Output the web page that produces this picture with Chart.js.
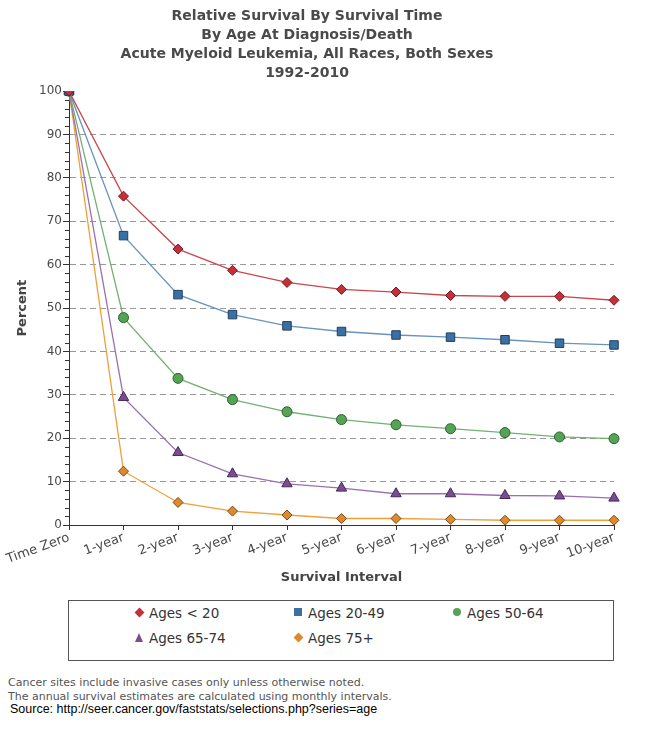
<!DOCTYPE html>
<html>
<head>
<meta charset="utf-8">
<script src="https://cdn.jsdelivr.net/npm/chart.js@4.4.1/dist/chart.umd.min.js"></script>
<style>
body{margin:0;background:#fff;}
#wrap{position:relative;width:650px;height:755px;}
#box{position:absolute;left:0;top:0;width:650px;height:590px;}
#legend{position:absolute;left:68px;top:600px;width:544px;height:59px;border:1px solid #555;}
.item{position:absolute;font:13.5px "DejaVu Sans",sans-serif;color:#333;white-space:nowrap;line-height:16px;}
.mk{position:absolute;}
.note{position:absolute;left:8px;font:11px "DejaVu Sans",sans-serif;color:#555;white-space:nowrap;}
.src{position:absolute;left:10px;font:12.5px "Liberation Sans",Arial,sans-serif;color:#000;white-space:nowrap;}
</style>
</head>
<body>
<div id="wrap">
<div id="box"><canvas id="chart"></canvas></div>
<div id="legend"></div>
<div class="note" style="top:676px">Cancer sites include invasive cases only unless otherwise noted.</div>
<div class="note" style="top:690px">The annual survival estimates are calculated using monthly intervals.</div>
<div class="src" style="top:702px">Source: http://seer.cancer.gov/faststats/selections.php?series=age</div>
</div>
<script>

const categories = ["Time Zero","1-year","2-year","3-year","4-year","5-year","6-year","7-year","8-year","9-year","10-year"];

const agesUnder20 = [100, 75.8, 63.6, 58.7, 55.9, 54.3, 53.7, 52.9, 52.7, 52.7, 51.8];
const ages20to49 = [100, 66.7, 53.1, 48.5, 45.9, 44.6, 43.8, 43.3, 42.7, 41.9, 41.5];
const ages50to64 = [100, 47.8, 33.8, 28.9, 26.1, 24.3, 23.1, 22.2, 21.3, 20.3, 19.9];
const ages65to74 = [100, 29.4, 16.7, 11.8, 9.5, 8.5, 7.2, 7.2, 6.8, 6.7, 6.2];
const ages75plus = [100, 12.4, 5.2, 3.2, 2.3, 1.5, 1.5, 1.3, 1.1, 1.1, 1.1];

const seriesNames = ["Ages < 20","Ages 20-49","Ages 50-64","Ages 65-74","Ages 75+"];

const titleLines = [
"Relative Survival By Survival Time",
"By Age At Diagnosis/Death",
"Acute Myeloid Leukemia, All Races, Both Sexes",
"1992-2010"
];

// styling per series
const lineColors = ["#c8474d","#6893bd","#72b172","#9a70ae","#f0a038"];
const markColors = ["#c4303a","#3b70a3","#55a456","#7a4d90","#e0892c"];
const markBorders = ["#7a1a20","#1f3f60","#2e6030","#45285a","#7a4a14"];
const markStyles = ["rectRot","rect","circle","triangle","rectRot"];
const markSizes = [5,6,5,6,5];

const allData = [agesUnder20, ages20to49, ages50to64, ages65to74, ages75plus];

const font = '"DejaVu Sans", sans-serif';

const minorTicks = {
id:"minorTicks",
afterDraw(chart){
const y = chart.scales.y;
const ctx = chart.ctx;
ctx.save();
ctx.strokeStyle = "#333";
ctx.lineWidth = 1;
for(let v = 0; v <= 100; v += 2){
if(v % 10 === 0) continue;
const py = Math.round(y.getPixelForValue(v)) + 0.5;
ctx.beginPath();
ctx.moveTo(y.right - 4, py);
ctx.lineTo(y.right, py);
ctx.stroke();
}
ctx.restore();
}
};

const datasets = allData.map((d, i) => ({
label: seriesNames[i],
data: d,
borderColor: lineColors[i],
borderWidth: 1.3,
backgroundColor: markColors[i],
pointStyle: markStyles[i],
pointRadius: markSizes[i],
pointHoverRadius: markSizes[i],
pointBackgroundColor: markColors[i],
pointBorderColor: markBorders[i],
pointBorderWidth: 1,
tension: 0,
fill: false
}));

const ctx = document.getElementById("chart").getContext("2d");

new Chart(ctx,{
type:"line",
data:{
labels: categories,
datasets: datasets
},
options:{
responsive:true,
maintainAspectRatio:false,
animation:false,
layout:{padding:{left:0,right:36,top:0,bottom:0}},
plugins:{
legend:{display:false},
tooltip:{enabled:false},
title:{
display:true,
text:titleLines,
color:"#4a4a4a",
font:{family:font,size:14,weight:"bold",lineHeight:1.36},
padding:{top:7,bottom:8}
}
},
scales:{
x:{
offset:false,
afterFit(s){ s.height = 65; },
grid:{drawOnChartArea:false,drawTicks:true,tickLength:5,tickColor:"#333"},
border:{color:"#333",width:1},
ticks:{
color:"#4a4a4a",
font:{family:font,size:13},
minRotation:20,
maxRotation:20,
autoSkip:false,
padding:0
},
title:{
display:true,
text:"Survival Interval",
color:"#444",
font:{family:font,size:13,weight:"bold"},
padding:{top:4,bottom:5}
}
},
y:{
min:0,
max:100,
afterFit(s){ s.width = 69; },
grid:{
color: c => (c.tick && c.tick.value > 0 && c.tick.value < 100) ? "#999" : "rgba(0,0,0,0)",
tickColor:"#333",
tickLength:6
},
border:{color:"#333",width:1,dash:[6,4]},
ticks:{
stepSize:10,
color:"#4a4a4a",
font:{family:font,size:12},
padding:1
},
title:{
display:true,
text:"Percent",
color:"#444",
font:{family:font,size:13,weight:"bold"},
padding:{top:15,bottom:0}
}
}
}
},
plugins:[minorTicks]
});

/* legend */
const legend = document.getElementById("legend");
const colX = [70, 229, 388];
const rowY = [11, 36];

seriesNames.forEach((name, i) => {
const col = i % 3;
const row = Math.floor(i / 3);
const mk = document.createElement("div");
mk.className = "mk";
const cx = colX[col];
const cy = rowY[row];
const c = markColors[i];
if(markStyles[i] === "rectRot"){
mk.style.cssText = `left:${cx-3.5}px;top:${cy-3.5}px;width:7px;height:7px;background:${c};transform:rotate(45deg);`;
}
else if(markStyles[i] === "rect"){
mk.style.cssText = `left:${cx-4}px;top:${cy-4}px;width:8px;height:8px;background:${c};`;
}
else if(markStyles[i] === "circle"){
mk.style.cssText = `left:${cx-4}px;top:${cy-4}px;width:8px;height:8px;background:${c};border-radius:50%;`;
}
else{
mk.style.cssText = `left:${cx-4.5}px;top:${cy-4.5}px;width:0;height:0;border-left:4.5px solid transparent;border-right:4.5px solid transparent;border-bottom:9px solid ${c};`;
}
legend.appendChild(mk);

const t = document.createElement("div");
t.className = "item";
t.textContent = name;
t.style.left = (cx + 10) + "px";
t.style.top = (cy - 7) + "px";
legend.appendChild(t);
});

</script>
</body>
</html>
